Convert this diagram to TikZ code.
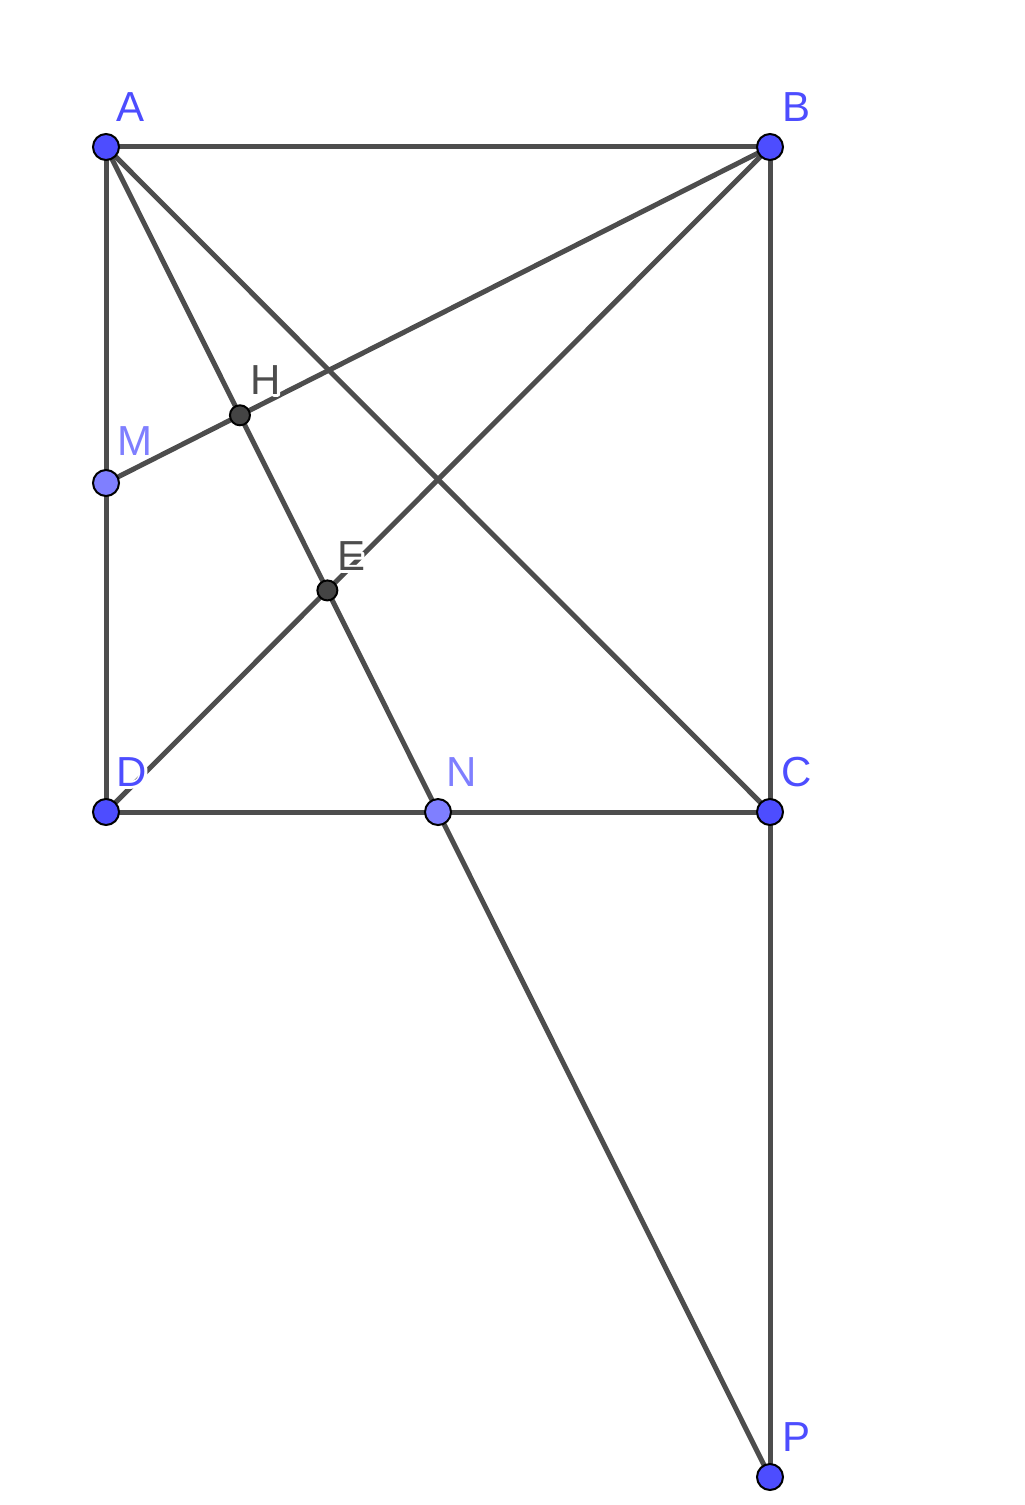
\documentclass[tikz,border=0pt]{standalone}
\usepackage{fontspec}
\setmainfont{Liberation Sans}
\definecolor{lineg}{HTML}{4D4D4D}
\definecolor{ptblue}{HTML}{4D4DFF}
\definecolor{ptlight}{HTML}{7F7FFF}
\definecolor{ptdark}{HTML}{444444}
\tikzset{
  seg/.style={draw=lineg,line width=3.75pt},
  bigpt/.style={draw=black,line width=1.5pt,fill=#1},
  lbl/.style={inner sep=0pt,font=\fontsize{31.5}{36}\selectfont,text=#1},
}
\newcommand{\strokedtext}[1]{\special{pdf:literal direct q 1 Tr 3.5 w 1 1 1 RG 1 j}#1\special{pdf:literal direct Q}}
\newcommand{\halolabel}[4]{%
  \node[lbl=#4] (#2) at (#1) {\rlap{\strokedtext{#3}}#3};}
\begin{document}
\begin{tikzpicture}[x=0.75pt,y=-0.75pt]
\useasboundingbox (0,0) rectangle (1024,1505);
\coordinate (A) at (106,147);
\coordinate (B) at (770,147);
\coordinate (C) at (770,812);
\coordinate (D) at (106,812);
\coordinate (M) at (106,483);
\coordinate (P) at (770,1477);
\coordinate (N) at (intersection of A--P and D--C);
\coordinate (H) at (intersection of A--P and B--M);
\coordinate (E) at (intersection of A--P and B--D);
% segments
\draw[seg] (A) -- (B);
\draw[seg] (B) -- (C);
\draw[seg] (C) -- (D);
\draw[seg] (D) -- (A);
\draw[seg] (A) -- (C);
\draw[seg] (B) -- (D);
\draw[seg] (B) -- (M);
\draw[seg] (A) -- (P);
\draw[seg] (C) -- (P);
% labels
\coordinate (lA) at (131,107);
\coordinate (lB) at (796,107);
\coordinate (lC) at (797,772);
\coordinate (lD) at (132,772);
\coordinate (lM) at (135,441);
\coordinate (lN) at (462,772);
\coordinate (lH) at (266,380);
\coordinate (lE) at (352,556);
\coordinate (lP) at (796,1437);
\halolabel{lA}{tA}{A}{ptblue}
\halolabel{lB}{tB}{B}{ptblue}
\halolabel{lC}{tC}{C}{ptblue}
\halolabel{lD}{tD}{D}{ptblue}
\halolabel{lP}{tP}{P}{ptblue}
\halolabel{lM}{tM}{M}{ptlight}
\halolabel{lN}{tN}{N}{ptlight}
\halolabel{lH}{tH}{H}{lineg}
\halolabel{lE}{tE}{E}{lineg}
% points
\foreach \p in {A,B,C,D,P}{\draw[bigpt=ptblue] (\p) circle[radius=9.75pt];}
\foreach \p in {M,N}{\draw[bigpt=ptlight] (\p) circle[radius=9.75pt];}
\foreach \p in {H,E}{\draw[bigpt=ptdark] (\p) circle[radius=7.5pt];}
\end{tikzpicture}
\end{document}
